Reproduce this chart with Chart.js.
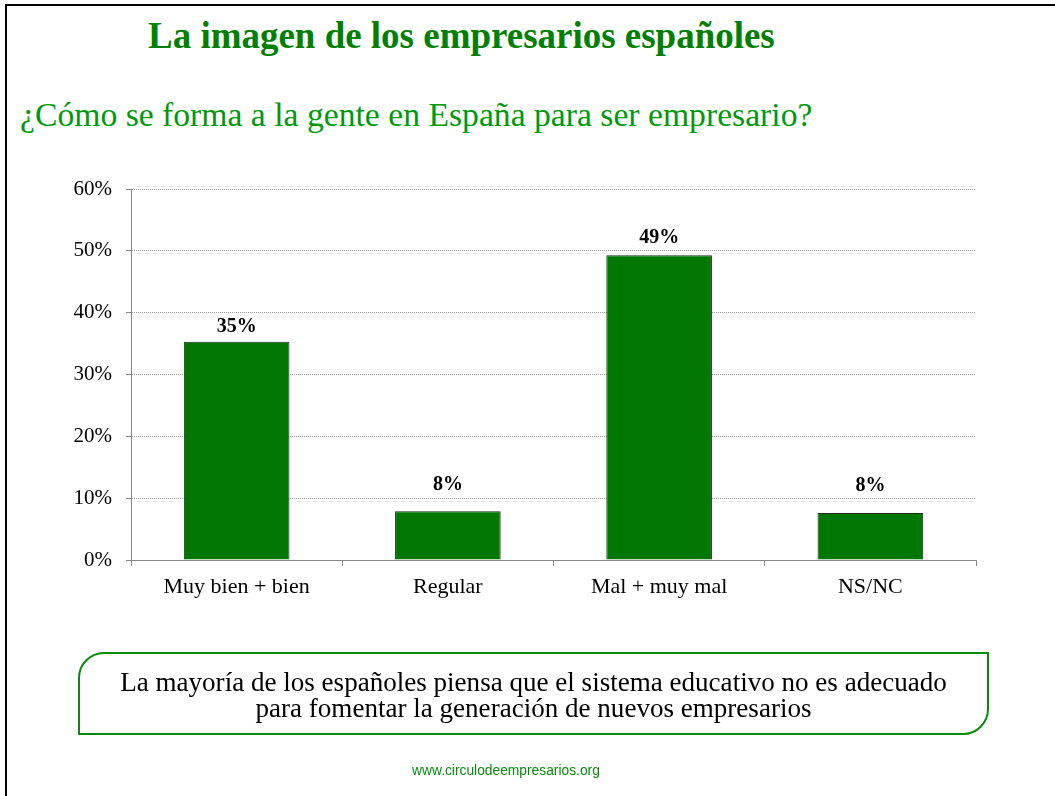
<!DOCTYPE html>
<html>
<head>
<meta charset="utf-8">
<script src="https://cdn.jsdelivr.net/npm/chart.js@4/dist/chart.umd.min.js"></script>
<style>
  html, body { margin:0; padding:0; background:#fff; }
  body { width:1055px; height:796px; position:relative; overflow:hidden; font-family:"Liberation Serif", serif; }
  #frameTop { position:absolute; left:5px; top:4px; right:0; height:2px; background:#000; }
  #frameLeft { position:absolute; left:5px; top:4px; bottom:0; width:2px; background:#000; }
  .t { position:absolute; white-space:nowrap; line-height:1; }
  #title { left:148px; color:#007f00; font-weight:bold; }
  #subtitle { left:20px; color:#00990a; }
  #box { position:absolute; left:78px; top:652px; width:907px; height:79px; border:2px solid #0a8a0a; border-radius:26px 0 26px 0; }
  #note { position:absolute; left:12px; width:1043px; text-align:center; color:#000; line-height:26px; }
  #footer { position:absolute; white-space:nowrap; color:#0a8a0a; font-family:"Liberation Sans Narrow","Liberation Sans",sans-serif; line-height:1; }
  canvas { position:absolute; left:0; top:0; }
</style>
</head>
<body>
<div id="frameTop"></div>
<div id="frameLeft"></div>
<div class="t" id="title">La imagen de los empresarios españoles</div>
<div class="t" id="subtitle">¿Cómo se forma a la gente en España para ser empresario?</div>
<canvas id="c" width="1055" height="796"></canvas>
<div id="box"></div>
<div id="note"><span id="l1">La mayoría de los españoles piensa que el sistema educativo no es adecuado</span><br><span id="l2">para fomentar la generación de nuevos empresarios</span></div>
<div id="footer">www.circulodeempresarios.org</div>
<script>
// ---- data ----
const categories = ["Muy bien + bien", "Regular", "Mal + muy mal", "NS/NC"];
const values = [35.3, 7.9, 49.3, 7.6];
const yTicks = [0, 10, 20, 30, 40, 50, 60];

// ---- label lift (px above bar top), styling only ----
const labelLift = [9, 20, 11, 21];

function fit(el, target) {
  el.style.fontSize = '30px';
  const w = el.getBoundingClientRect().width;
  const s = 30 * target / w;
  el.style.fontSize = s + 'px';
  return s;
}
function place(el, baseline) {
  const s = parseFloat(el.style.fontSize);
  el.style.top = (baseline - 0.837 * s) + 'px';
}
const title = document.getElementById('title');
fit(title, 627); place(title, 48);
const sub = document.getElementById('subtitle');
fit(sub, 793); place(sub, 126);
const note = document.getElementById('note');
note.style.fontSize = '30px';
const l1w = document.getElementById('l1').getBoundingClientRect().width;
const ns = 30 * 827 / l1w;
note.style.fontSize = ns + 'px';
note.style.top = (691 - (13 + ns * 0.837 - ns / 2)) + 'px';
const foot = document.getElementById('footer');
const fs = fit(foot, 188);
foot.style.left = (506 - 94) + 'px';
foot.style.top = (775 - 0.905 * fs + (1.149 - 1) / 2 * fs) + 'px';

const dataLabels = {
  id: 'dataLabels',
  afterDatasetsDraw(chart) {
    const ctx = chart.ctx;
    const meta = chart.getDatasetMeta(0);
    ctx.save();
    ctx.font = 'bold 20px "Liberation Serif", serif';
    ctx.fillStyle = '#000';
    ctx.textAlign = 'center';
    ctx.textBaseline = 'alphabetic';
    meta.data.forEach((bar, i) => {
      ctx.fillText(Math.round(values[i]) + '%', bar.x, bar.y - labelLift[i] - 1);
    });
    ctx.restore();
  }
};

new Chart(document.getElementById('c'), {
  type: 'bar',
  data: {
    labels: categories,
    datasets: [{
      data: values,
      backgroundColor: '#007800',
      borderColor: '#1d2d1d',
      borderWidth: 1,
      categoryPercentage: 1,
      barPercentage: 0.5
    }]
  },
  options: {
    responsive: false,
    devicePixelRatio: 1,
    animation: false,
    events: [],
    layout: { padding: { left: 0, right: 79, top: 189, bottom: 196 } },
    plugins: { legend: { display: false }, tooltip: { enabled: false }, title: { display: false } },
    scales: {
      x: {
        afterFit(s) { s.height = 40; },
        border: { color: '#888', width: 1 },
        grid: { offset: true, drawOnChartArea: false, color: '#888', tickLength: 6 },
        ticks: { color: '#000', padding: 8, font: { family: '"Liberation Serif", serif', size: 22 } }
      },
      y: {
        min: 0, max: 60,
        afterFit(s) { s.width = 131; },
        afterBuildTicks(s) { s.ticks = yTicks.map(v => ({ value: v })); },
        border: { color: '#888', width: 1, dash: [1, 1] },
        grid: { color: '#999', tickBorderDash: [], tickColor: '#888', tickLength: 5, lineWidth: 1 },
        ticks: { color: '#000', padding: 14, font: { family: '"Liberation Serif", serif', size: 21 }, callback: v => v + '%' }
      }
    }
  },
  plugins: [dataLabels]
});
</script>
</body>
</html>
